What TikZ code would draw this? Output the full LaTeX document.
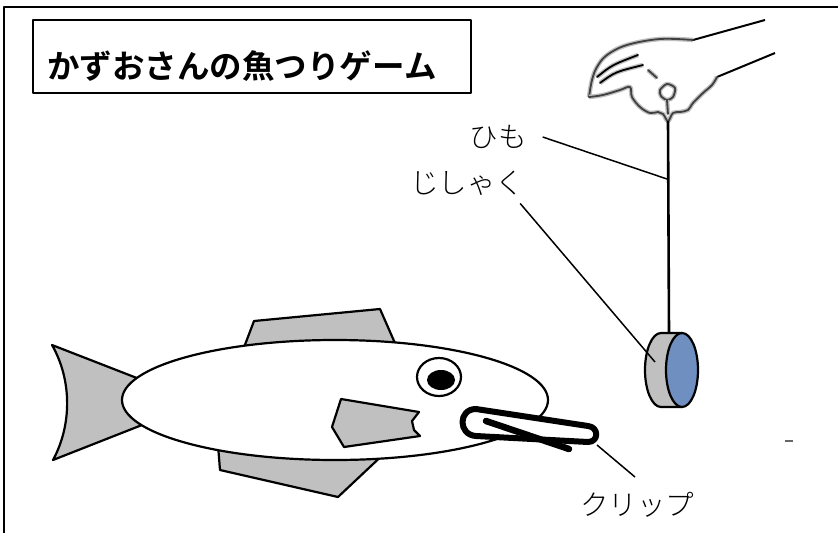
\documentclass[tikz,border=0pt]{standalone}
\usepackage{fontspec}
\usetikzlibrary{positioning}
\newfontfamily\gothic{Noto Sans CJK JP Bold}
\newfontfamily\mincho{Noto Sans CJK JP Light}
\definecolor{finGray}{HTML}{C0C0C0}
\definecolor{magBlue}{HTML}{6F8FC0}

\begin{document}
\begin{tikzpicture}[x=1pt, y=-1pt, line join=round,
    outline/.style={draw=black, line width=2.2pt},
    fin/.style={outline, fill=finGray},
    leader/.style={draw=black, line width=1.5pt},
    tag/.style={font=\mincho\fontsize{28.5}{28.5}\selectfont, inner sep=0pt},
    handline/.style={draw=black!75, line width=1.8pt, line cap=round,
        preaction={draw=black!25, line width=4.5pt}}]

    \useasboundingbox (0,0) rectangle (838,533);

    % frame: only top and left edges
    \draw[line width=2pt] (4,533) -- (4,7) -- (838,7);

    % title
    \draw[line width=1.8pt] (33,20) rectangle (471,93);
    \node[font=\gothic\fontsize{32.5}{32.5}\selectfont] (title) at (242,66) {かずおさんの魚つりゲーム};

    % hand holding the string
    \draw[line width=2pt] (693,40) -- (765,20);
    \draw[line width=2pt] (717,77) -- (775,53);
    \draw[handline] plot[smooth, tension=0.6] coordinates {(693,40) (660,39) (627,45) (607,55) (597,67) (592,80) (589,97)};
    \draw[handline] plot[smooth, tension=0.6] coordinates {(589,97) (603,95) (620,90) (630,87) (632,97) (640,107) (650,113) (658,112) (663,114) (668,121) (673,113) (680,112) (688,110) (693,103) (703,93) (712,85) (717,77)};
    \draw[handline, draw=black] (597,77) .. controls (612,65) .. (638,55);
    \draw[handline, draw=black] (600,83) .. controls (615,72) .. (643,65);
    \draw[handline] (648,70) -- (657,78);
    \draw[handline] plot[smooth cycle] coordinates {(660,90) (667,84) (675,88) (673,97) (667,100) (661,96)};
    \draw[handline] (667,100) -- (668,114);

    % string and magnet
    \coordinate (hold) at (668,121);
    \coordinate (magTop) at (669,333);
    \draw[line width=2.6pt] (hold) -- (magTop);
    \draw[outline, fill=finGray] (682,333) -- (661,333)
        arc[start angle=270, end angle=90, x radius=16, y radius=37] -- (682,407) -- cycle;
    \draw[outline, fill=magBlue] (682,370) ellipse[x radius=16, y radius=37];

    % fish
    \draw[fin] (52,345) -- (142,380) -- (142,425) -- (53,460)
        .. controls (72,425) and (72,380) .. cycle;
    \draw[fin] (243,350) -- (254,321) -- (380,309) -- (398,350) -- cycle;
    \draw[fin] (218,445) -- (220,470) -- (338,497) -- (388,450) -- cycle;
    \draw[outline, fill=white] (335,400) ellipse[x radius=213, y radius=60];
    \draw[fin] (341,399) -- (419,412) -- (412,421) -- (414,430) -- (420,436)
        -- (344,447) -- (332,427) -- cycle;
    \draw[outline, fill=white] (439,377) ellipse[x radius=22, y radius=19];
    \fill (441,380) ellipse[x radius=14, y radius=10];

    % paper clip in the mouth: outer loop, then the inner wire
    \draw[line width=6pt, fill=white] (476,409) -- (588,426)
        .. controls (599,427) and (599,442) .. (588,442) -- (476,436)
        .. controls (458,435) and (458,409) .. cycle;
    \draw[line width=6.5pt, line cap=round] (486,421) -- (569,449);

    % labels
    \node[tag] (himo) at (498,137) {ひも};
    \node[tag] (jishaku) at (467,183) {じしゃく};
    \node[tag] (clip) at (637,505) {クリップ};

    \coordinate (himoPt) at (667,179);
    \coordinate (magPt) at (655,362);
    \coordinate (clipPt) at (597,445);
    \draw[leader] (himo.east) ++(16,0) -- (himoPt);
    \draw[leader] (jishaku.south east) ++(-4,8) -- (magPt);
    \draw[leader] (clipPt) -- (635,477);

    \draw[black!60, line width=1.3pt] (785,441) -- (793,441);

\end{tikzpicture}
\end{document}
